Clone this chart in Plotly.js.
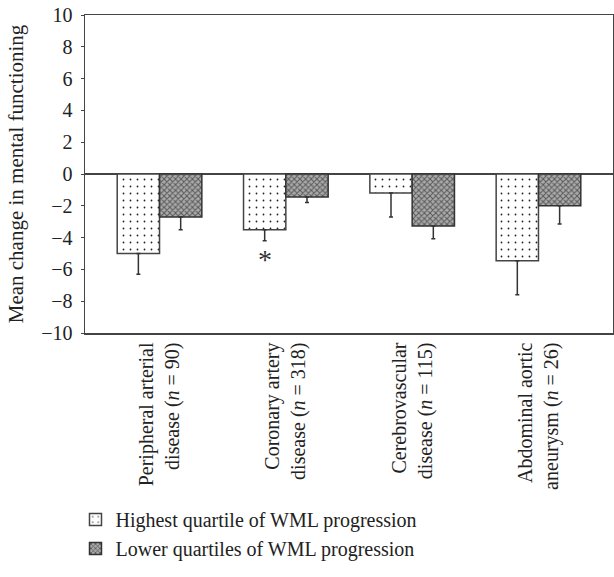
<!DOCTYPE html>
<html>
<head>
<meta charset="utf-8">
<script src="https://cdn.plot.ly/plotly-3.0.1.min.js"></script>
<style>html,body{margin:0;padding:0;background:#fff;}#chart{width:614px;height:577px;}</style>
</head>
<body>
<div id="chart"></div>
<script>
const categories = [
  "Peripheral arterial<br>disease (<i>n</i> = 90)",
  "Coronary artery<br>disease (<i>n</i> = 318)",
  "Cerebrovascular<br>disease (<i>n</i> = 115)",
  "Abdominal aortic<br>aneurysm (<i>n</i> = 26)"
];
const seriesNames = ["Highest quartile of WML progression", "Lower quartiles of WML progression"];
const highestMean = [-5.0, -3.5, -1.2, -5.45];
const highestErr = [1.3, 0.7, 1.5, 2.15];
const lowerMean = [-2.7, -1.45, -3.27, -2.0];
const lowerErr = [0.8, 0.35, 0.8, 1.15];
const zeros = [0, 0, 0, 0];
const significance = [{cat: 1, y: -5.35, text: "*"}];

const FONT = "Liberation Serif, Times New Roman, serif";
const LINE = "#444";
const FS = 20;

const traces = [
  {
    type: "bar", name: seriesNames[0], x: categories, y: highestMean,
    marker: {color: "#ffffff", line: {color: LINE, width: 1.5},
      pattern: {shape: ".", fgcolor: "#222", bgcolor: "#ffffff", size: 7, solidity: 0.05}},
    error_y: {type: "data", symmetric: false, array: zeros, arrayminus: highestErr,
      color: "#333", thickness: 1.5, width: 2}
  },
  {
    type: "bar", name: seriesNames[1], x: categories, y: lowerMean,
    marker: {color: "#999", line: {color: "#333", width: 1.5},
      pattern: {shape: "x", fgcolor: "#5a5a5a", bgcolor: "#ababab", size: 4, solidity: 0.45}},
    error_y: {type: "data", symmetric: false, array: zeros, arrayminus: lowerErr,
      color: "#333", thickness: 1.5, width: 2}
  }
];

const layout = {
  width: 614, height: 577,
  margin: {l: 85, r: 1, t: 15, b: 244},
  paper_bgcolor: "#fff", plot_bgcolor: "#fff",
  font: {family: FONT, size: FS, color: "#222"},
  barmode: "group", bargap: 0.33, bargroupgap: 0,
  showlegend: true,
  legend: {orientation: "v", x: -0.018, xanchor: "left", y: -0.525, yanchor: "top",
    font: {family: FONT, size: 20, color: "#222"}, bgcolor: "rgba(0,0,0,0)", tracegroupgap: 0},
  xaxis: {
    type: "category", range: [-0.59, 3.59], tickangle: -90,
    showline: true, mirror: true, linecolor: LINE, linewidth: 1.5,
    ticks: "", showgrid: false, zeroline: false,
    tickfont: {family: FONT, size: FS, color: "#222"}
  },
  yaxis: {
    range: [-10, 10], dtick: 2, tick0: 0,
    showline: true, mirror: true, linecolor: LINE, linewidth: 1.5,
    ticks: "outside", ticklen: 3, tickcolor: LINE, tickwidth: 1, ticklabelstandoff: 4,
    showgrid: false, zeroline: true, zerolinecolor: LINE, zerolinewidth: 1.5,
    tickfont: {family: FONT, size: FS, color: "#222"},
    title: {text: "Mean change in mental functioning", font: {family: FONT, size: 21, color: "#222"}, standoff: 12}
  },
  annotations: significance.map(s => ({
    x: s.cat - 0.167, y: s.y, xref: "x", yref: "y", text: s.text, showarrow: false,
    font: {family: FONT, size: 28, color: "#333"}
  }))
};

Plotly.newPlot("chart", traces, layout, {displayModeBar: false, staticPlot: true});
</script>
</body>
</html>
